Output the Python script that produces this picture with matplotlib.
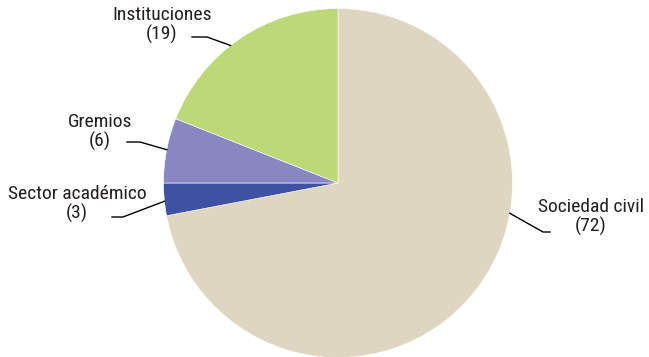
import numpy as np
import matplotlib
matplotlib.use('Agg')
import matplotlib.pyplot as plt

labels = ['Sociedad civil', 'Sector académico', 'Gremios', 'Instituciones']
values = [72, 3, 6, 19]
colors = ['#DFD6C1', '#3F51A2', '#8A86C2', '#BCD877']

plt.rcParams['font.family'] = ['Roboto Condensed', 'DejaVu Sans']

W, H = 649, 357
fig = plt.figure(figsize=(W / 100, H / 100), dpi=100)
ax = fig.add_axes([0, 0, 1, 1])

cx, cy, r = 338, H - 183, 174.5
wedges, _ = ax.pie(values, colors=colors, startangle=90, counterclock=False,
                   center=(cx, cy), radius=r, frame=True,
                   wedgeprops=dict(edgecolor='white', linewidth=0.4))
ax.set_xlim(0, W)
ax.set_ylim(0, H)
ax.set_aspect('equal')
ax.axis('off')

# leader lines: anchor angle on rim, elbow, end of horizontal, text center (pixels from top-left)
layout = {
    'Instituciones':    (128, (207, 37), (192, 37), (162, 25)),
    'Gremios':          (169, (140, 142), (127, 142), (100, 132)),
    'Sector académico': (186, (123, 217), (112, 217), (77, 204)),
    'Sociedad civil':   (-10, (543, 232), (550, 232), (591, 217)),
}

for lab, val in zip(labels, values):
    ang, elbow, end, txt = layout[lab]
    a = np.deg2rad(ang)
    x0, y0 = cx + r * np.cos(a), cy + r * np.sin(a)
    ax.plot([x0, elbow[0], end[0]], [y0, H - elbow[1], H - end[1]],
            color='black', lw=1)
    ax.text(txt[0], H - txt[1], f'{lab}\n({val})', ha='center', va='center',
            fontsize=14, color='#231F20', linespacing=1.0)

fig.savefig('out.png', dpi=100)
